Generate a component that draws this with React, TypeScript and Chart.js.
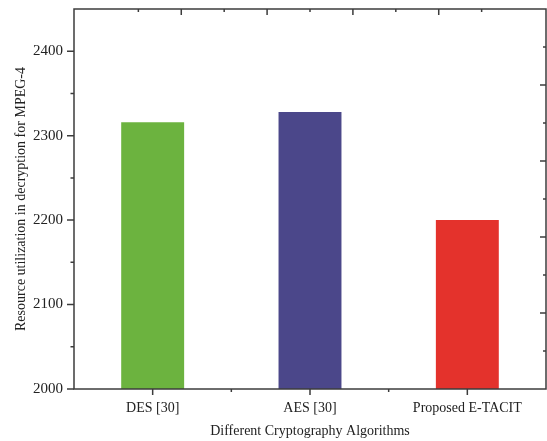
import { useEffect, useRef } from "react";
import { Chart, registerables } from "chart.js";

Chart.register(...registerables);

const categories = ["DES [30]", "AES [30]", "Proposed E-TACIT"];
const resourceValues = [2316, 2328, 2200];
const barColors = ["#6cb33f", "#4b478a", "#e4322c"];
const yTicks = [2000, 2100, 2200, 2300, 2400];
const yMinorTicks = [2050, 2150, 2250, 2350];
const yMin = 2000;
const yMax = 2450;
const frameMajor = [1, 2, 3, 4];
const frameMinor = [0.5, 1.5, 2.5, 3.5, 4.5];

const axisColor = "#3c3c3c";
const textColor = "#222222";
const fontFamily = "'Liberation Serif', 'DejaVu Serif', serif";

const frameTicks = {
  id: "frameTicks",
  afterDraw(chart: any) {
    const { ctx, chartArea: a, scales } = chart;
    const x = scales.x;
    const y = scales.y;
    const x2 = scales.x2;
    const y2 = scales.y2;
    ctx.save();
    ctx.strokeStyle = axisColor;
    ctx.lineWidth = 1.5;
    ctx.beginPath();
    // left axis (outward)
    yTicks.forEach((v) => {
      const py = y.getPixelForValue(v);
      ctx.moveTo(a.left - 7, py);
      ctx.lineTo(a.left, py);
    });
    yMinorTicks.forEach((v) => {
      const py = y.getPixelForValue(v);
      ctx.moveTo(a.left - 3.5, py);
      ctx.lineTo(a.left, py);
    });
    // bottom axis (outward)
    categories.forEach((_, i) => {
      const px = x.getPixelForValue(i);
      ctx.moveTo(px, a.bottom);
      ctx.lineTo(px, a.bottom + 6);
    });
    for (let i = 0; i < categories.length - 1; i++) {
      const px = (x.getPixelForValue(i) + x.getPixelForValue(i + 1)) / 2;
      ctx.moveTo(px, a.bottom);
      ctx.lineTo(px, a.bottom + 3);
    }
    // top axis (inward)
    frameMajor.forEach((v) => {
      const px = x2.getPixelForValue(v);
      ctx.moveTo(px, a.top);
      ctx.lineTo(px, a.top + 6);
    });
    frameMinor.forEach((v) => {
      const px = x2.getPixelForValue(v);
      ctx.moveTo(px, a.top);
      ctx.lineTo(px, a.top + 3);
    });
    // right axis (inward)
    frameMajor.forEach((v) => {
      const py = y2.getPixelForValue(v);
      ctx.moveTo(a.right, py);
      ctx.lineTo(a.right - 6, py);
    });
    frameMinor.forEach((v) => {
      const py = y2.getPixelForValue(v);
      ctx.moveTo(a.right, py);
      ctx.lineTo(a.right - 3, py);
    });
    ctx.stroke();
    ctx.strokeRect(a.left, a.top, a.right - a.left, a.bottom - a.top);
    ctx.restore();
  },
};

export default function App() {
  const canvasRef = useRef<HTMLCanvasElement | null>(null);

  useEffect(() => {
    if (!canvasRef.current) return;
    const chart = new Chart(canvasRef.current, {
      type: "bar",
      data: {
        labels: categories,
        datasets: [
          {
            data: resourceValues,
            backgroundColor: barColors,
            borderWidth: 0,
            barPercentage: 0.4,
            categoryPercentage: 1,
          },
        ],
      },
      options: {
        animation: false,
        responsive: false,
        devicePixelRatio: 1,
        layout: { padding: { left: 0, right: 1, top: 9, bottom: 0 } },
        plugins: {
          legend: { display: false },
          tooltip: { enabled: false },
        },
        scales: {
          x: {
            type: "category",
            offset: true,
            grid: { display: false, drawTicks: false },
            border: { display: false },
            ticks: {
              padding: 11,
              color: textColor,
              font: { family: fontFamily, size: 14 },
              maxRotation: 0,
            },
            title: {
              display: true,
              text: "Different Cryptography Algorithms",
              color: textColor,
              font: { family: fontFamily, size: 14 },
              padding: { top: 0, bottom: 1 },
            },
            afterFit: (scale: any) => {
              scale.height = 52;
              scale.paddingLeft = 0;
              scale.paddingRight = 0;
            },
          },
          y: {
            type: "linear",
            min: yMin,
            max: yMax,
            grid: { display: false, drawTicks: false },
            border: { display: false },
            ticks: {
              padding: 11,
              color: textColor,
              font: { family: fontFamily, size: 15 },
              callback: (v: any) => String(v),
            },
            afterBuildTicks: (scale: any) => {
              scale.ticks = yTicks.map((v) => ({ value: v }));
            },
            title: {
              display: true,
              text: "Resource utilization in decryption for MPEG-4",
              color: textColor,
              font: { family: fontFamily, size: 14 },
              padding: { top: 13, bottom: 0 },
            },
            afterFit: (scale: any) => {
              scale.width = 74;
              scale.paddingTop = 0;
              scale.paddingBottom = 0;
            },
          },
          x2: {
            type: "linear",
            position: "top",
            display: false,
            min: 0,
            max: 5,
          },
          y2: {
            type: "linear",
            position: "right",
            display: false,
            min: 0,
            max: 5,
          },
        },
      },
      plugins: [frameTicks],
    });
    return () => chart.destroy();
  }, []);

  return (
    <div style={{ position: "absolute", left: 0, top: 0, width: 547, height: 441, background: "#fff" }}>
      <canvas ref={canvasRef} width={547} height={441} />
    </div>
  );
}
